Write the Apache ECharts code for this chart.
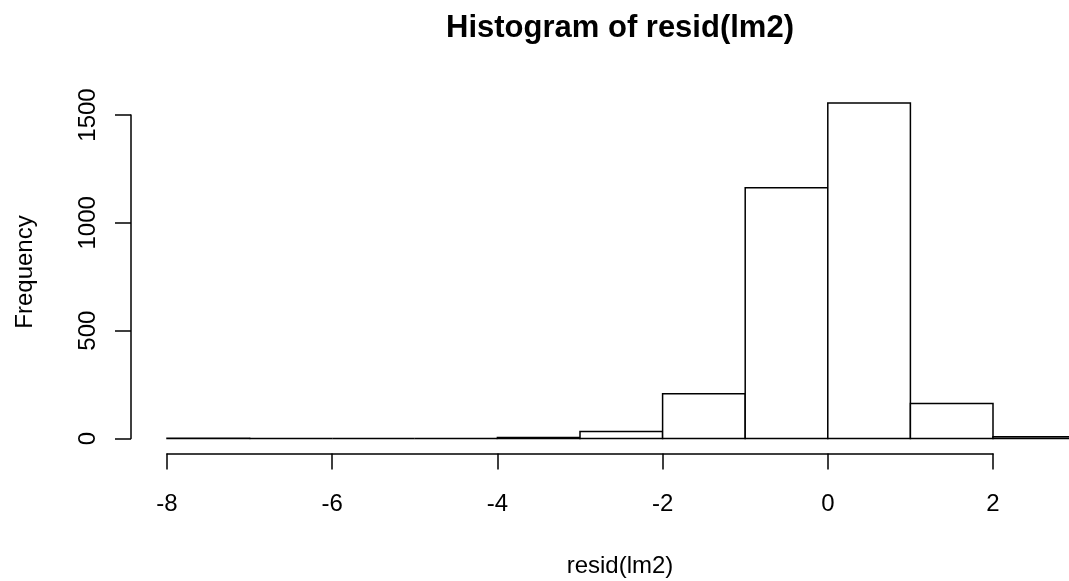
<!DOCTYPE html>
<html>
  <head>
    <meta charset="utf-8">
    <title>Histogram of resid(lm2)</title>
    <script src="https://cdn.jsdelivr.net/npm/echarts@6/dist/echarts.min.js"></script>
    <style>
      html, body { margin: 0; padding: 0; background: #fff; }
      #main { width: 1069px; height: 581px; }
    </style>
  </head>
  <body>
    <div id="main"></div>
    <script type="text/javascript">
    // histogram bins (left edges), bin width 1
    var breaks = [-8, -7, -6, -5, -4, -3, -2, -1, 0, 1, 2];
    var counts = [1, 0, 0, 0, 5, 32, 207, 1163, 1556, 162, 8];
    var xTicks = [-8, -6, -4, -2, 0, 2];
    var yTicks = [0, 500, 1000, 1500];

    var font = 'Liberation Sans, Arial, sans-serif';
    var bins = [];
    for (var i = 0; i < breaks.length; i++) {
        bins.push([breaks[i], breaks[i] + 1, counts[i]]);
    }

    function renderBar(params, api) {
        var p0 = api.coord([api.value(0), 0]);
        var p1 = api.coord([api.value(1), api.value(2)]);
        return {
            type: 'rect',
            shape: { x: p0[0], y: p1[1], width: p1[0] - p0[0], height: p0[1] - p1[1] },
            style: { fill: '#fff', stroke: '#000', lineWidth: 1.5 }
        };
    }

    var myChart = echarts.init(document.getElementById('main'));
    myChart.setOption({
        animation: false,
        backgroundColor: '#fff',
        title: {
            text: 'Histogram of resid(lm2)',
            left: 620,
            textAlign: 'center',
            top: 13,
            padding: 0,
            textStyle: { fontFamily: font, fontWeight: 'bold', fontSize: 31, color: '#000' }
        },
        graphic: [
            {
                type: 'text', x: 620, y: 566,
                style: { text: 'resid(lm2)', font: '24px ' + font, fill: '#000', align: 'center', verticalAlign: 'middle' }
            },
            {
                type: 'text', x: 25, y: 272, rotation: Math.PI / 2,
                style: { text: 'Frequency', font: '24px ' + font, fill: '#000', align: 'center', verticalAlign: 'middle' }
            }
        ],
        grid: { left: 167, right: 76, top: 115, bottom: 142.5 },
        xAxis: {
            type: 'value',
            min: xTicks[0],
            max: xTicks[xTicks.length - 1],
            interval: 2,
            offset: 15,
            axisLine: { show: true, onZero: false, lineStyle: { color: '#000', width: 1.5 } },
            axisTick: { show: true, length: 16, lineStyle: { color: '#000', width: 1.5 } },
            axisLabel: { margin: 39, fontFamily: font, fontSize: 24, color: '#000', showMinLabel: true, showMaxLabel: true },
            splitLine: { show: false }
        },
        yAxis: {
            type: 'value',
            min: yTicks[0],
            max: yTicks[yTicks.length - 1],
            interval: 500,
            offset: 36,
            axisLine: { show: true, onZero: false, lineStyle: { color: '#000', width: 1.5 } },
            axisTick: { show: true, length: 16, lineStyle: { color: '#000', width: 1.5 } },
            axisLabel: {
                rotate: 90, margin: 43, fontFamily: font, fontSize: 24, color: '#000', verticalAlign: 'middle',
                formatter: function (v) { return String(v); }
            },
            splitLine: { show: false }
        },
        series: [{
            type: 'custom',
            clip: false,
            renderItem: renderBar,
            encode: { x: [0, 1], y: 2 },
            data: bins
        }]
    });
    </script>
  </body>
</html>
